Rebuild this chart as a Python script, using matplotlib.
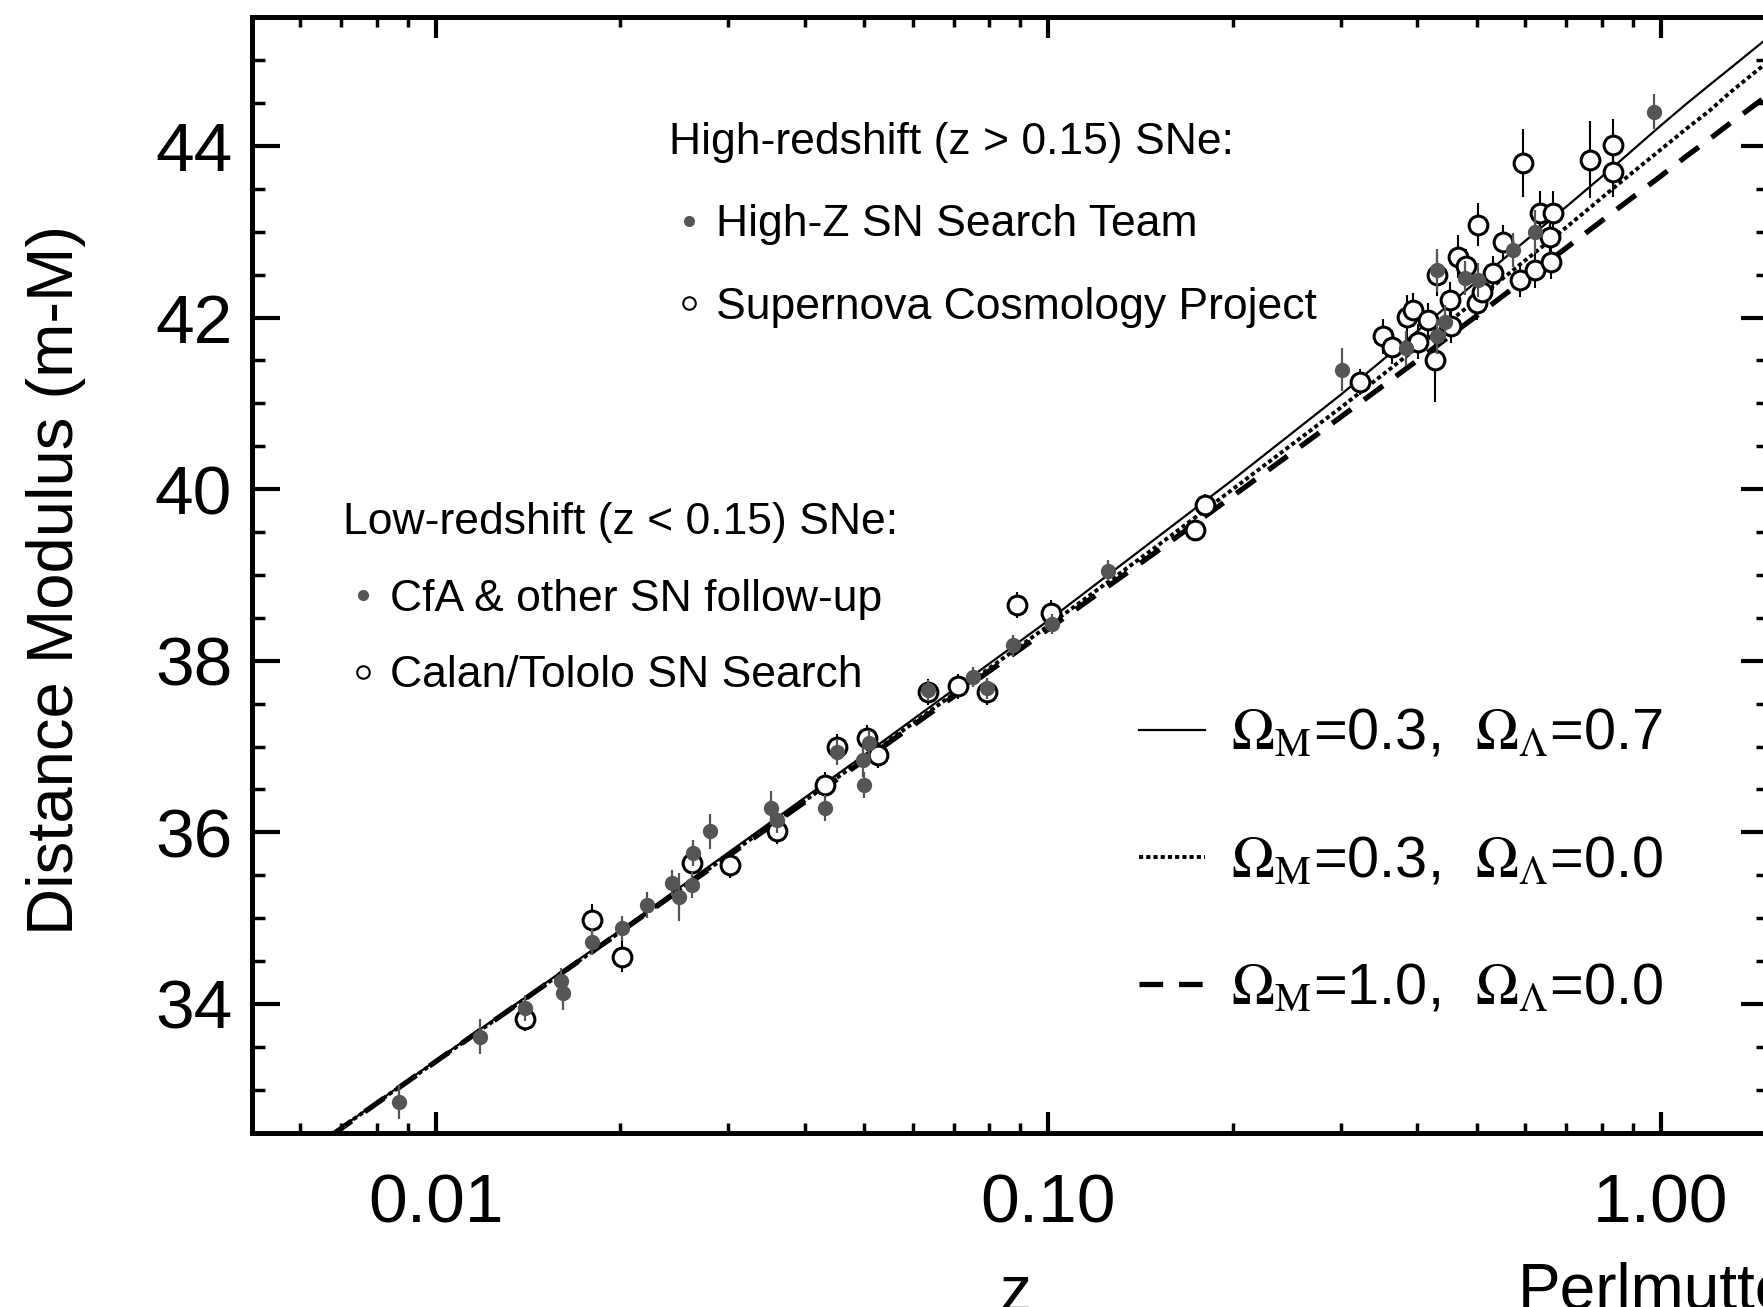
import numpy as np
import matplotlib
matplotlib.use("Agg")
import matplotlib.pyplot as plt
from matplotlib.lines import Line2D
from matplotlib.ticker import FixedLocator, LogLocator, MultipleLocator, NullFormatter

plt.rcParams['font.family'] = ['Liberation Sans', 'DejaVu Sans']
plt.rcParams['mathtext.fontset'] = 'stix'
plt.rcParams['lines.scale_dashes'] = False

# ---- low-redshift supernovae ----
# CfA & other SN follow-up (filled)
cfa_z = [0.0087, 0.0118, 0.0140, 0.0160, 0.0161, 0.0180, 0.0201, 0.0221, 0.0243,
         0.0249, 0.0262, 0.0263, 0.0280, 0.0353, 0.0360, 0.0432, 0.0451, 0.0498,
         0.0500, 0.0510, 0.0637, 0.0754, 0.0795, 0.0876, 0.1012, 0.1249]
cfa_mu = [32.86, 33.62, 33.95, 34.27, 34.13, 34.72, 34.88, 35.15, 35.41,
          35.25, 35.39, 35.76, 36.01, 36.28, 36.14, 36.28, 36.94, 36.84,
          36.55, 37.04, 37.66, 37.81, 37.68, 38.18, 38.43, 39.05]
cfa_err = [0.20, 0.20, 0.15, 0.15, 0.20, 0.15, 0.15, 0.15, 0.15,
           0.28, 0.15, 0.15, 0.20, 0.20, 0.15, 0.15, 0.15, 0.20,
           0.15, 0.15, 0.12, 0.12, 0.12, 0.12, 0.12, 0.12]

# Calan/Tololo SN Search (open)
ct_z = [0.0140, 0.0180, 0.0201, 0.0262, 0.0302, 0.0360, 0.0432, 0.0451,
        0.0505, 0.0527, 0.0637, 0.0713, 0.0793, 0.0887, 0.1010]
ct_mu = [33.83, 34.98, 34.55, 35.64, 35.62, 36.01, 36.55, 37.00,
         37.10, 36.90, 37.64, 37.70, 37.64, 38.65, 38.56]
ct_err = [0.15, 0.18, 0.18, 0.20, 0.15, 0.15, 0.15, 0.15,
          0.15, 0.15, 0.15, 0.15, 0.15, 0.15, 0.15]

# ---- high-redshift supernovae ----
# High-Z SN Search Team (filled)
hzt_z = [0.302, 0.383, 0.4305, 0.4305, 0.444, 0.479, 0.503, 0.574, 0.623, 0.974]
hzt_mu = [41.39, 41.64, 42.55, 41.78, 41.95, 42.46, 42.44, 42.79, 43.00, 44.40]
hzt_err = [0.25, 0.20, 0.25, 0.20, 0.20, 0.20, 0.20, 0.20, 0.25, 0.20]

# Supernova Cosmology Project (open)
scp_z = [0.1734, 0.1802, 0.3226, 0.352, 0.3634, 0.3845, 0.394, 0.4015, 0.417,
         0.4276, 0.4305, 0.4524, 0.455, 0.4667, 0.480, 0.500, 0.503, 0.510,
         0.5325, 0.553, 0.5888, 0.5963, 0.6228, 0.6346, 0.659, 0.661, 0.667,
         0.7656, 0.8356, 0.836]
scp_mu = [39.52, 39.82, 41.25, 41.78, 41.66, 42.01, 42.09, 41.72, 41.97,
          41.51, 42.50, 42.21, 41.90, 42.71, 42.60, 42.17, 43.08, 42.30,
          42.52, 42.88, 42.44, 43.80, 42.55, 43.22, 42.94, 42.65, 43.22,
          43.84, 44.01, 43.70]
scp_err = [0.12, 0.12, 0.15, 0.20, 0.20, 0.25, 0.20, 0.20, 0.20,
           0.50, 0.25, 0.20, 0.20, 0.25, 0.20, 0.20, 0.25, 0.20,
           0.20, 0.20, 0.20, 0.40, 0.20, 0.25, 0.20, 0.20, 0.25,
           0.45, 0.30, 0.30]

# ---- model curves ----
model_z = [0.006, 0.01, 0.02, 0.05, 0.1, 0.15, 0.2, 0.3, 0.4, 0.5, 0.7, 0.85,
           1.0, 1.1, 1.2, 1.3, 1.5]
mu_m03_l07 = [32.22, 33.34, 34.86, 36.90, 38.47, 39.43, 40.11, 41.10, 41.84, 42.42,
              43.29, 43.80, 44.24, 44.49, 44.71, 44.91, 45.27]
mu_m03_l00 = [32.22, 33.33, 34.84, 36.86, 38.41, 39.33, 40.00, 40.95, 41.65, 42.21,
              43.05, 43.55, 43.96, 44.20, 44.41, 44.63, 44.99]
mu_m10_l00 = [32.21, 33.33, 34.84, 36.84, 38.37, 39.27, 39.92, 40.84, 41.50, 42.02,
              42.81, 43.27, 43.65, 43.88, 44.08, 44.27, 44.60]

xtick_vals = [0.01, 0.1, 1.0]
xtick_labels = ['0.01', '0.10', '1.00']
ytick_vals = [34, 36, 38, 40, 42, 44]

gray = '#555555'

fig = plt.figure(figsize=(17.63, 13.07), dpi=100)
ax = fig.add_axes([0.1427, 0.1334, 0.8606, 0.8534])

l1, = ax.plot(model_z, mu_m03_l07, color='black', lw=1.6, zorder=2)
l2, = ax.plot(model_z, mu_m03_l00, color='black', lw=2.8, dashes=(3, 2.2), zorder=2)
l3, = ax.plot(model_z, mu_m10_l00, color='black', lw=3.8, dashes=(17, 11.5), zorder=2)

open_kw = dict(fmt='o', ms=13.5, mfc='white', mec='black', mew=2.2,
               ecolor='black', elinewidth=1.5, capsize=0, zorder=3)
fill_kw = dict(fmt='o', ms=10, mfc=gray, mec=gray, mew=1,
               ecolor=gray, elinewidth=1.6, capsize=0, zorder=4)

ax.errorbar(ct_z, ct_mu, yerr=ct_err, **open_kw)
ax.errorbar(scp_z, scp_mu, yerr=scp_err, **open_kw)
ax.errorbar(cfa_z, cfa_mu, yerr=cfa_err, **fill_kw)
ax.errorbar(hzt_z, hzt_mu, yerr=hzt_err, **fill_kw)

ax.set_xscale('log')
ax.set_xlim(0.005, 1.5)
ax.set_ylim(32.5, 45.5)

ax.xaxis.set_major_locator(FixedLocator(xtick_vals))
ax.set_xticklabels(xtick_labels)
ax.xaxis.set_minor_locator(LogLocator(base=10, subs=np.arange(2, 10)))
ax.xaxis.set_minor_formatter(NullFormatter())
ax.set_yticks(ytick_vals)
ax.yaxis.set_minor_locator(MultipleLocator(0.5))

for s in ax.spines.values():
    s.set_linewidth(3.6)

ax.tick_params(axis='both', which='both', direction='in', top=True, right=True,
               labelsize=50, color='black')
ax.tick_params(axis='x', which='major', length=15, width=3, pad=29)
ax.tick_params(axis='x', which='minor', length=7.5, width=2.5)
ax.tick_params(axis='y', which='major', length=20, width=3, pad=14)
ax.tick_params(axis='y', which='minor', length=9.5, width=2.5)

# data legends
hz_handles = [Line2D([], [], ls='none', marker='o', ms=7, mfc=gray, mec=gray),
              Line2D([], [], ls='none', marker='o', ms=9, mfc='white', mec='black', mew=1.5)]
leg_hi = ax.legend(hz_handles, ['High-Z SN Search Team', 'Supernova Cosmology Project'],
                   title='High-redshift (z > 0.15) SNe:', title_fontsize=32, fontsize=32,
                   loc='upper left', bbox_to_anchor=(0.2751, 0.9060), frameon=False,
                   borderpad=0, borderaxespad=0, handlelength=0.9, handletextpad=0.15,
                   labelspacing=0.93, alignment='left')
ax.add_artist(leg_hi)

lz_handles = [Line2D([], [], ls='none', marker='o', ms=7, mfc=gray, mec=gray),
              Line2D([], [], ls='none', marker='o', ms=9, mfc='white', mec='black', mew=1.5)]
leg_lo = ax.legend(lz_handles, ['CfA & other SN follow-up', 'Calan/Tololo SN Search'],
                   title='Low-redshift (z < 0.15) SNe:', title_fontsize=32, fontsize=32,
                   loc='upper left', bbox_to_anchor=(0.0602, 0.5654), frameon=False,
                   borderpad=0, borderaxespad=0, handlelength=0.9, handletextpad=0.15,
                   labelspacing=0.8, alignment='left')
ax.add_artist(leg_lo)

model_labels = [r'$\Omega_{\rm M}$=0.3,  $\Omega_{\Lambda}$=0.7',
                r'$\Omega_{\rm M}$=0.3,  $\Omega_{\Lambda}$=0.0',
                r'$\Omega_{\rm M}$=1.0,  $\Omega_{\Lambda}$=0.0']
ax.legend([l1, l2, l3], model_labels, fontsize=41.5, loc='upper left',
          bbox_to_anchor=(0.5849, 0.381), frameon=False, borderpad=0, borderaxespad=0,
          handlelength=1.15, handletextpad=0.45, labelspacing=1.27)

fig.text(0.032, 0.5559, 'Distance Modulus (m-M)', rotation=90, ha='center', va='center',
         fontsize=47)
fig.text(0.5757, -0.003, 'z', ha='center', va='baseline', fontsize=46)
fig.text(0.861, -0.001, 'Perlmutter', ha='left', va='baseline', fontsize=46)

fig.savefig('out.png', dpi=100)
